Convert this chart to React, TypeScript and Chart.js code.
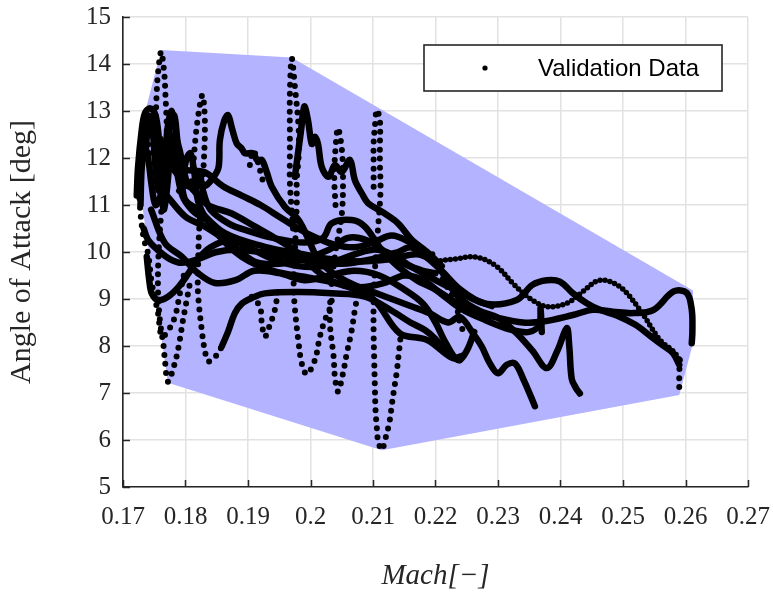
import React, { useEffect, useRef } from 'react';
import { Chart, registerables } from 'chart.js';

Chart.register(...registerables);

type Pt = [number, number];

// ---- axes ----
const xTickValues = [0.17, 0.18, 0.19, 0.2, 0.21, 0.22, 0.23, 0.24, 0.25, 0.26, 0.27];
const xTickLabels = ['0.17', '0.18', '0.19', '0.2', '0.21', '0.22', '0.23', '0.24', '0.25', '0.26', '0.27'];
const yTickValues = [5, 6, 7, 8, 9, 10, 11, 12, 13, 14, 15];
const xTitle = 'Mach[−]';
const yTitle = 'Angle of Attack [deg]';
const legendLabel = 'Validation Data';

// ---- envelope (convex hull of the validation data) ----
const hullMach = [0.1761, 0.197, 0.2612, 0.2612, 0.259, 0.2114, 0.1772, 0.1724, 0.1728];
const hullAoA = [14.3, 14.14, 9.18, 8.06, 6.96, 5.78, 7.22, 11.6, 12.6];

// ---- fast-moving (sparse dot) segments ----
const sparse1: Pt[] = [[0.1742, 12.1], [0.1735, 12.75], [0.1729, 12.5], [0.1726, 11.7], [0.1727, 11.0], [0.1733, 10.3], [0.174, 9.97], [0.1746, 9.34], [0.1756, 8.7], [0.1762, 8.2], [0.1771, 8.3], [0.1783, 8.62], [0.1791, 9.12], [0.1798, 9.55]];
const sparse2: Pt[] = [[0.1752, 12.7], [0.1754, 13.41], [0.1756, 13.8], [0.1761, 14.26], [0.1766, 13.8], [0.1768, 13.3], [0.177, 12.6], [0.1768, 12.0], [0.1762, 11.0], [0.1757, 10.0], [0.1756, 9.2], [0.1759, 8.55], [0.1765, 7.99], [0.1767, 7.7], [0.1772, 7.24], [0.1783, 7.64], [0.1789, 7.99], [0.1796, 8.55], [0.1802, 8.98], [0.1808, 9.4]];
const sparse3: Pt[] = [[0.1812, 11.8], [0.1818, 12.67], [0.1827, 13.34], [0.1831, 12.74], [0.1828, 11.6], [0.1822, 10.5], [0.182, 9.6], [0.182, 9.12], [0.1826, 8.34], [0.1831, 7.9], [0.1837, 7.67], [0.1852, 7.84], [0.1858, 7.99]];
const sparse4: Pt[] = [[0.1972, 10.5], [0.1967, 11.47], [0.1967, 12.03], [0.1967, 12.53], [0.1967, 13.38], [0.197, 14.12], [0.1975, 13.52], [0.1981, 12.63], [0.1981, 12.03], [0.1978, 11.53], [0.1978, 11.04], [0.1975, 10.0], [0.1973, 9.3], [0.1975, 8.8], [0.1981, 8.06], [0.1986, 7.63], [0.1994, 7.4], [0.2007, 7.7], [0.2015, 8.2], [0.2023, 8.55], [0.2031, 8.8], [0.2036, 9.1]];
const sparse5: Pt[] = [[0.204, 11.0], [0.2038, 11.6], [0.204, 12.2], [0.2044, 12.63], [0.205, 12.2], [0.2052, 11.6], [0.205, 10.8], [0.204, 10.0], [0.2033, 9.2], [0.2031, 8.49], [0.2037, 7.77], [0.2039, 7.35], [0.2044, 7.03], [0.2052, 7.42], [0.2058, 7.84], [0.2066, 8.34], [0.2071, 8.77], [0.2077, 9.2]];
const sparse6: Pt[] = [[0.2101, 11.39], [0.2101, 11.89], [0.2101, 12.31], [0.2103, 12.67], [0.2106, 13.02], [0.2111, 12.81], [0.2111, 12.24], [0.2111, 11.89], [0.2112, 11.3], [0.2108, 10.5], [0.2103, 9.6], [0.2101, 8.9], [0.2101, 8.27], [0.2102, 7.67], [0.2103, 7.13], [0.2104, 6.64], [0.2106, 6.28], [0.2108, 6.0], [0.2114, 5.79], [0.2122, 6.14], [0.2127, 6.43], [0.213, 6.74], [0.2134, 7.1], [0.2138, 7.45], [0.2141, 7.81], [0.2145, 8.3]];
const sparse7: Pt[] = [[0.1906, 9.05], [0.1919, 8.84], [0.1922, 8.5], [0.1927, 8.2], [0.1935, 8.45], [0.1943, 8.77], [0.1948, 9.19]];
const sparse8: Pt[] = [[0.2195, 9.95], [0.2207, 9.58], [0.2212, 9.4], [0.222, 9.23], [0.2228, 9.04], [0.2234, 8.84], [0.2239, 8.49], [0.2245, 8.3]];
const sparse9: Pt[] = [[0.2591, 7.7], [0.259, 7.4], [0.259, 7.1], [0.259, 6.96]];
const sparse10: Pt[] = [[0.1903, 11.85], [0.1908, 12.15], [0.1914, 12.0], [0.192, 11.7], [0.1926, 11.4]];

// ---- medium-speed (close dot) segment ----
const dotted1: Pt[] = [[0.22, 9.8], [0.223, 9.85], [0.2266, 9.89], [0.2298, 9.69], [0.2324, 9.33], [0.2351, 9.01], [0.2378, 8.84], [0.241, 8.91], [0.2435, 9.15], [0.2463, 9.4], [0.2495, 9.26], [0.2527, 8.77], [0.2559, 8.13], [0.2581, 7.88], [0.2591, 7.7]];

// ---- slow (dense, solid-looking) trajectories ----
const trackA: Pt[] = [[0.1722, 11.2], [0.1724, 11.8], [0.173, 12.6], [0.1735, 12.95], [0.1743, 13.06], [0.1751, 12.95], [0.1756, 12.6], [0.1759, 12.1], [0.1763, 11.6], [0.1766, 11.46], [0.177, 11.8], [0.1773, 12.4], [0.1777, 12.88], [0.1782, 12.91], [0.1786, 12.5], [0.1789, 12.0], [0.1794, 11.46], [0.18, 11.1], [0.182, 10.9], [0.1863, 10.4], [0.1927, 10.11], [0.1981, 9.97], [0.203, 9.85], [0.208, 9.8], [0.213, 9.85], [0.217, 9.95], [0.22, 9.8]];
const trackB: Pt[] = [[0.1735, 12.0], [0.174, 12.6], [0.1748, 12.8], [0.1755, 12.3], [0.176, 11.5], [0.1765, 10.9], [0.177, 11.3], [0.1776, 12.1], [0.1782, 12.5], [0.179, 12.2], [0.1798, 11.7], [0.1805, 11.4], [0.1815, 11.5], [0.1822, 11.7], [0.1828, 11.3], [0.184, 10.9], [0.187, 10.6], [0.19, 10.45], [0.194, 10.3], [0.199, 10.2], [0.202, 10.3], [0.2034, 10.61], [0.2066, 10.68], [0.2087, 10.54], [0.2114, 10.04], [0.214, 9.69], [0.217, 9.4], [0.22, 9.2], [0.223, 8.95], [0.226, 8.75], [0.23, 8.6], [0.234, 8.5], [0.2372, 8.52], [0.242, 8.66], [0.2452, 8.77], [0.2484, 8.73], [0.2517, 8.7], [0.2549, 8.77], [0.2581, 9.16], [0.2602, 9.13], [0.261, 8.77], [0.2611, 8.3], [0.261, 8.06]];
const trackC: Pt[] = [[0.1733, 10.5], [0.174, 10.26], [0.1755, 10.05], [0.1775, 9.85], [0.1794, 9.77], [0.182, 9.85], [0.185, 10.0], [0.188, 10.05], [0.192, 10.0], [0.196, 9.9], [0.2, 9.8], [0.205, 9.75], [0.21, 9.85], [0.214, 10.0], [0.216, 10.1], [0.218, 9.95], [0.221, 9.6], [0.224, 9.2], [0.228, 8.9], [0.233, 8.98], [0.2355, 9.3], [0.2378, 9.4], [0.2399, 9.37], [0.242, 9.12], [0.2442, 8.91], [0.2463, 8.77], [0.249, 8.65], [0.252, 8.45], [0.2545, 8.2], [0.2565, 8.0], [0.258, 7.85], [0.259, 7.6]];
const trackD: Pt[] = [[0.179, 11.3], [0.181, 11.5], [0.183, 11.4], [0.1845, 11.6], [0.1853, 11.81], [0.1855, 12.38], [0.1862, 12.8], [0.1868, 12.91], [0.1875, 12.6], [0.1882, 12.31], [0.189, 12.2], [0.1895, 12.1], [0.1908, 12.1], [0.1915, 11.95], [0.1922, 11.96], [0.193, 11.7], [0.1938, 11.39], [0.1959, 10.96], [0.1981, 10.68], [0.1997, 10.26], [0.2007, 9.97], [0.2023, 9.69], [0.2044, 9.48], [0.207, 9.3], [0.21, 9.15], [0.213, 9.0], [0.216, 8.85], [0.219, 8.7], [0.222, 8.5], [0.2239, 8.62], [0.226, 8.27], [0.2274, 7.99], [0.2287, 7.63], [0.23, 7.42], [0.2314, 7.6], [0.2327, 7.63], [0.2341, 7.28], [0.2359, 6.72]];
const trackE: Pt[] = [[0.1975, 11.6], [0.1985, 12.6], [0.199, 13.1], [0.1996, 12.8], [0.2002, 12.3], [0.2007, 12.45], [0.2012, 12.3], [0.2018, 11.81], [0.2029, 11.6], [0.2039, 11.85], [0.205, 11.7], [0.2063, 11.96], [0.2071, 11.53], [0.2082, 11.25], [0.2092, 11.04], [0.2115, 10.85], [0.214, 10.61], [0.2162, 10.26], [0.2189, 9.97], [0.2205, 9.7], [0.222, 9.35], [0.224, 9.0], [0.227, 8.75], [0.23, 8.6], [0.233, 8.27], [0.2355, 7.9], [0.2378, 7.53], [0.2395, 7.9], [0.241, 8.38], [0.2414, 8.0], [0.2418, 7.3], [0.2425, 7.1], [0.2431, 6.99]];
const trackF: Pt[] = [[0.176, 12.4], [0.1775, 11.9], [0.179, 11.6], [0.181, 11.35], [0.1836, 11.0], [0.1874, 10.82], [0.191, 10.55], [0.1943, 10.3], [0.1981, 9.97], [0.201, 9.6], [0.204, 9.35], [0.208, 9.25], [0.212, 9.35], [0.215, 9.5], [0.218, 9.4], [0.221, 9.1], [0.224, 8.8], [0.228, 8.55], [0.232, 8.35], [0.235, 8.3], [0.2366, 8.45], [0.2368, 8.8], [0.237, 8.3]];
const trackG: Pt[] = [[0.1745, 10.9], [0.1767, 10.19], [0.1794, 9.9], [0.182, 9.55], [0.1847, 9.34], [0.188, 9.4], [0.191, 9.6], [0.195, 9.55], [0.199, 9.4], [0.203, 9.5], [0.207, 9.6], [0.211, 9.5], [0.215, 9.2], [0.218, 8.9], [0.22, 8.5], [0.2215, 8.1], [0.2236, 7.7], [0.225, 7.9], [0.2262, 8.3]];
const trackH: Pt[] = [[0.1738, 9.9], [0.1742, 9.4], [0.1746, 9.12], [0.1756, 8.98], [0.1772, 9.05], [0.1789, 9.26], [0.1805, 9.55], [0.182, 9.85], [0.184, 10.1], [0.187, 10.25], [0.19, 10.1], [0.194, 9.85], [0.198, 9.7], [0.202, 9.7], [0.206, 9.9], [0.21, 10.05], [0.213, 9.95], [0.216, 9.7], [0.22, 9.4], [0.223, 9.2], [0.226, 9.0], [0.229, 8.85]];
const trackI: Pt[] = [[0.1858, 7.99], [0.1868, 8.3], [0.1879, 8.7], [0.189, 8.9], [0.1906, 9.02], [0.1927, 9.12], [0.1981, 9.15], [0.2034, 9.12], [0.2087, 9.05], [0.213, 8.75], [0.216, 8.5], [0.2183, 8.34], [0.22, 8.15], [0.2215, 7.91], [0.223, 7.75], [0.2245, 7.8]];
const trackJ: Pt[] = [[0.1728, 11.0], [0.173, 11.8], [0.1736, 12.5], [0.1742, 12.9], [0.1748, 12.5], [0.1752, 11.8], [0.1758, 11.3], [0.1766, 11.9], [0.1772, 12.7], [0.1778, 13.0], [0.1784, 12.6], [0.179, 11.9], [0.1796, 11.7], [0.1802, 12.0], [0.1808, 12.1], [0.1814, 11.7], [0.1822, 11.0], [0.185, 10.4], [0.189, 9.9], [0.194, 9.6], [0.2, 9.45], [0.205, 9.3], [0.21, 9.0], [0.2143, 8.27], [0.2186, 8.13], [0.2223, 7.77], [0.2239, 7.7]];
const trackK: Pt[] = [[0.178, 11.9], [0.18, 11.75], [0.183, 11.7], [0.186, 11.4], [0.189, 11.2], [0.192, 11.0], [0.195, 10.75], [0.198, 10.5], [0.201, 10.3], [0.204, 10.15], [0.207, 10.1], [0.21, 10.2], [0.213, 10.35], [0.216, 10.2], [0.219, 9.95], [0.221, 9.7]];
const trackL: Pt[] = [[0.177, 11.2], [0.18, 10.75], [0.183, 10.55], [0.187, 10.2], [0.191, 9.8], [0.195, 9.75], [0.199, 9.85], [0.203, 10.05], [0.206, 10.3], [0.209, 10.25], [0.212, 10.0], [0.215, 9.75], [0.218, 9.6], [0.22, 9.55]];
const trackM: Pt[] = [[0.1725, 11.6], [0.1733, 12.3], [0.174, 12.0], [0.1746, 11.4], [0.1752, 11.0], [0.176, 11.2], [0.1768, 12.0], [0.1775, 12.4], [0.1785, 11.8], [0.1795, 11.2], [0.181, 10.9], [0.183, 10.7]];

const sparseTracks = [sparse1, sparse2, sparse3, sparse4, sparse5, sparse6, sparse7, sparse8, sparse9, sparse10];
const dottedTracks = [dotted1];
const solidTracks = [trackA, trackB, trackC, trackD, trackE, trackF, trackG, trackH, trackI, trackJ, trackK, trackL, trackM];

const INK = '#000000';
const AXIS = '#262626';
const GRID = '#e2e2e2';
const HULL = '#b3b3ff';
const SERIF = '"Liberation Serif", "Times New Roman", serif';

const toXY = (pts: Pt[]) => pts.map(([x, y]) => ({ x, y }));

const framePlugin = {
  id: 'frameTicksLegend',
  afterDatasetsDraw(chart: any) {
    const { ctx, chartArea, scales } = chart;
    ctx.save();
    // inward tick marks
    ctx.strokeStyle = AXIS;
    ctx.lineWidth = 1.5;
    ctx.beginPath();
    xTickValues.forEach((v) => {
      const px = Math.round(scales.x.getPixelForValue(v)) + 0.5;
      ctx.moveTo(px, chartArea.bottom);
      ctx.lineTo(px, chartArea.bottom - 7);
    });
    yTickValues.forEach((v) => {
      const py = Math.round(scales.y.getPixelForValue(v)) + 0.5;
      ctx.moveTo(chartArea.left, py);
      ctx.lineTo(chartArea.left + 7, py);
    });
    ctx.stroke();

    // legend box
    const bw = 298;
    const bh = 46;
    const bx = chartArea.right - 26 - bw;
    const by = chartArea.top + 28;
    ctx.fillStyle = '#ffffff';
    ctx.fillRect(bx, by, bw, bh);
    ctx.strokeStyle = AXIS;
    ctx.lineWidth = 1.6;
    ctx.strokeRect(bx, by, bw, bh);
    ctx.fillStyle = INK;
    ctx.beginPath();
    ctx.arc(bx + 61, by + bh / 2, 2.6, 0, Math.PI * 2);
    ctx.fill();
    ctx.font = '24px "Liberation Sans", Arial, sans-serif';
    ctx.textBaseline = 'middle';
    ctx.textAlign = 'left';
    ctx.fillText(legendLabel, bx + 114, by + bh / 2 + 1);
    ctx.restore();
  },
};

export default function App() {
  const canvasRef = useRef<HTMLCanvasElement | null>(null);

  useEffect(() => {
    if (!canvasRef.current) return;
    const hullData = toXY(hullMach.map((m, i) => [m, hullAoA[i]] as Pt));
    hullData.push({ ...hullData[0] });

    const datasets: any[] = [
      {
        label: 'Envelope',
        data: hullData,
        showLine: true,
        fill: 'shape',
        backgroundColor: HULL,
        borderColor: HULL,
        borderWidth: 0,
        pointRadius: 0,
        tension: 0,
        order: 10,
      },
    ];
    solidTracks.forEach((t) =>
      datasets.push({
        label: legendLabel,
        data: toXY(t),
        showLine: true,
        fill: false,
        borderColor: INK,
        borderWidth: 6.5,
        borderCapStyle: 'round',
        borderJoinStyle: 'round',
        pointRadius: 0,
        tension: 0.35,
        order: 1,
      })
    );
    dottedTracks.forEach((t) =>
      datasets.push({
        label: legendLabel,
        data: toXY(t),
        showLine: true,
        fill: false,
        borderColor: INK,
        borderWidth: 5.5,
        borderDash: [0, 5],
        borderCapStyle: 'round',
        pointRadius: 0,
        tension: 0.35,
        order: 1,
      })
    );
    sparseTracks.forEach((t) =>
      datasets.push({
        label: legendLabel,
        data: toXY(t),
        showLine: true,
        fill: false,
        borderColor: INK,
        borderWidth: 6,
        borderDash: [0, 9],
        borderCapStyle: 'round',
        pointRadius: 0,
        tension: 0.35,
        order: 1,
      })
    );

    const chart = new Chart(canvasRef.current, {
      type: 'scatter',
      data: { datasets },
      options: {
        animation: false,
        responsive: false,
        devicePixelRatio: 1,
        events: [],
        layout: { padding: { left: 0, top: 17, right: 25, bottom: 0 } },
        plugins: { legend: { display: false }, tooltip: { enabled: false } },
        scales: {
          x: {
            type: 'linear',
            min: 0.17,
            max: 0.27,
            afterBuildTicks: (scale: any) => {
              scale.ticks = xTickValues.map((v) => ({ value: v }));
            },
            afterFit: (scale: any) => {
              scale.height = 107;
              scale.paddingLeft = 0;
              scale.paddingRight = 0;
            },
            grid: { color: GRID, lineWidth: 1.5, drawTicks: false },
            border: { display: true, color: AXIS, width: 1.6 },
            ticks: {
              padding: 15,
              color: AXIS,
              font: { family: SERIF, size: 25 },
              maxRotation: 0,
              autoSkip: false,
              callback: (_v: any, i: number) => xTickLabels[i],
            },
            title: {
              display: true,
              text: xTitle,
              color: AXIS,
              font: { family: SERIF, size: 29, style: 'italic' },
              padding: { top: 0, bottom: 0 },
            },
          },
          y: {
            type: 'linear',
            min: 5,
            max: 15,
            afterBuildTicks: (scale: any) => {
              scale.ticks = yTickValues.map((v) => ({ value: v }));
            },
            afterFit: (scale: any) => {
              scale.width = 123;
              scale.paddingTop = 0;
              scale.paddingBottom = 0;
            },
            grid: { color: GRID, lineWidth: 1.5, drawTicks: false },
            border: { display: true, color: AXIS, width: 1.6 },
            ticks: {
              padding: 12,
              color: AXIS,
              font: { family: SERIF, size: 25 },
              autoSkip: false,
              callback: (v: any) => String(v),
            },
            title: {
              display: true,
              text: yTitle,
              color: AXIS,
              font: { family: SERIF, size: 30 },
              padding: { top: 4, bottom: 0 },
            },
          },
        },
      },
      plugins: [framePlugin],
    });
    return () => chart.destroy();
  }, []);

  return (
    <div style={{ position: 'absolute', left: 0, top: 0, width: 773, height: 594, background: '#ffffff' }}>
      <canvas ref={canvasRef} width={773} height={594} style={{ display: 'block', width: 773, height: 594 }} />
    </div>
  );
}
